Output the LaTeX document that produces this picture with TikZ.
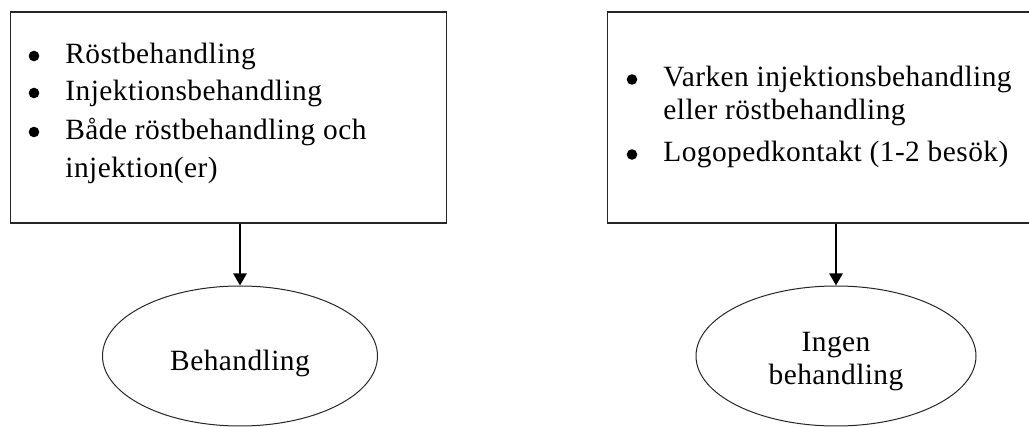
\documentclass[tikz,border=0pt]{standalone}
\usepackage{fontspec}
\setmainfont{Liberation Serif}[LetterSpace=1.5]
\usetikzlibrary{arrows.meta,shapes.geometric}
\begin{document}
\begin{tikzpicture}[x=0.5pt,y=-0.5pt,
  boxstyle/.style={draw=black!85,line width=0.7pt,rectangle,anchor=north west,inner sep=0pt},
  txt/.style={anchor=base west,inner sep=0pt,font=\fontsize{14.7}{17}\selectfont},
  bul/.style={circle,fill=black,inner sep=0pt,minimum size=5.3pt},
  oval/.style={draw=black!85,line width=0.5pt,ellipse,inner sep=0pt,minimum height=70pt},
  conn/.style={line width=1.3pt,-{Triangle[width=6.5pt,length=6pt]}}]
\useasboundingbox (0,0) rectangle (1029,427);
\clip (0,0) rectangle (1029,427);
% boxes
\node[boxstyle,minimum width=218.25pt,minimum height=105.5pt] (lbox) at (9.5,11.5) {};
\node[boxstyle,minimum width=216.5pt,minimum height=105.5pt] (rbox) at (607,11.5) {};
% left box text
\node[bul] (lb1) at (34,56) {};
\node[txt] (lt1) at (65,64) {Röstbehandling};
\node[bul] (lb2) at (34,93) {};
\node[txt] (lt2) at (65,101) {Injektionsbehandling};
\node[bul] (lb3) at (34,132) {};
\node[txt] (lt3) at (65,140) {Både röstbehandling och};
\node[txt] (lt4) at (65,178) {injektion(er)};
% right box text
\node[bul] (rb1) at (632,79.5) {};
\node[txt] (rt1) at (663,87) {Varken injektionsbehandling};
\node[txt] (rt2) at (663,120) {eller röstbehandling};
\node[bul] (rb2) at (632,154.5) {};
\node[txt] (rt3) at (663,162) {Logopedkontakt (1-2 besök)};
% ellipses
\node[oval,minimum width=137.5pt] (lell) at (240,356) {};
\node[oval,minimum width=140pt] (rell) at (836,356) {};
\node[txt,anchor=base] (lellt) at (240,371) {Behandling};
\node[txt,anchor=base] (rellt1) at (836,352) {Ingen};
\node[txt,anchor=base] (rellt2) at (836,385) {behandling};
% connectors
\draw[conn] (lbox.south -| lell.north) -- (lell.north);
\draw[conn] (rbox.south -| rell.north) -- (rell.north);
\end{tikzpicture}
\end{document}
